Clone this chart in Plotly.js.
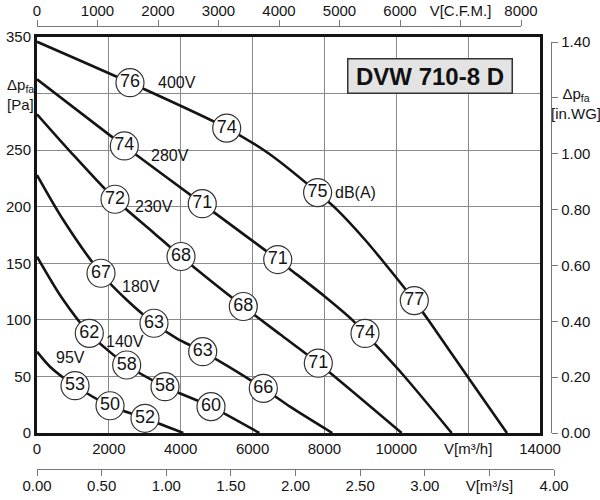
<!DOCTYPE html>
<html>
<head>
<meta charset="utf-8">
<script src="https://cdn.plot.ly/plotly-3.0.1.min.js"></script>
<style>
  html, body { margin: 0; padding: 0; background: #fff; }
  #chart { width: 600px; height: 500px; }
</style>
</head>
<body>
<div id="chart"></div>
<script>
// fan curves, flow V [m3/h] vs. pressure dp_fa [Pa]
const q400 = [0, 2588, 5280, 6450, 7810, 8341, 9129, 9658, 10501, 10888, 11982, 13080];
const p400 = [345.8, 309.6, 269.5, 247, 212.5, 197.6, 170.8, 150.7, 117, 100, 50, 0];
const q280 = [0, 2004, 2430, 4600, 6000, 6700, 7042, 8000, 8759, 9129, 10150, 11542];
const p280 = [312.6, 263.7, 253.7, 202.7, 169.8, 153.3, 144.8, 120.9, 100.4, 88, 52.8, 0];
const q230 = [0, 918, 2171, 3238, 4008, 5742, 6764, 7830, 10150];
const p230 = [281.7, 249, 206.6, 177.3, 156, 111.8, 87.3, 61.7, 0];
const q180 = [0, 732, 1781, 2500, 3256, 3900, 4612, 6299, 7042, 8219];
const p180 = [228, 188.3, 141.2, 117.5, 97, 83.5, 71.9, 39.5, 23.3, 0];
const q140 = [0, 700, 1456, 2496, 3563, 4843, 6188];
const p140 = [155.8, 119, 88.1, 60.1, 40.9, 23.3, 0];
const q95 = [0, 362, 1058, 2032, 3006, 4072];
const p95 = [71.9, 58.6, 41.8, 24.1, 13, 0];

// noise level points dB(A) on the curves
const dbQ = [2588, 5280, 7810, 10501,  2430, 4600, 6700, 9129,  2171, 4008, 5742, 7830,
             1781, 3256, 4612, 6299,  1456, 2496, 3563, 4843,  1058, 2032, 3006];
const dbP = [309.6, 269.5, 212.5, 117,  253.7, 202.7, 153.3, 88,  206.6, 156, 111.8, 61.7,
             141.2, 97, 71.9, 39.5,  88.1, 60.1, 40.9, 23.3,  41.8, 24.1, 13];
const dbVal = [76, 74, 75, 77,  74, 71, 71, 74,  72, 68, 68, 71,
               67, 63, 63, 66,  62, 58, 58, 60,  53, 50, 52];

// curve names and where their labels sit (data coords)
const voltNames = ["400V", "280V", "230V", "180V", "140V", "95V", "dB(A)"];
const voltLabelQ = [3897, 3700, 3250, 2895, 2449, 940, 8865];
const voltLabelP = [309.4, 245, 200, 129.3, 81, 66.6, 212.4];

// axis ticks
const qTicks = [0, 2000, 4000, 6000, 8000, 10000, 12000, 14000];
const qText = ["0", "2000", "4000", "6000", "8000", "10000", "V[m³/h]", "14000"];
const pTicks = [0, 50, 100, 150, 200, 250, 300, 350];
const pText = ["0", "50", "100", "150", "200", "250", "", "350"];
const cfmTicks = [0, 1000, 2000, 3000, 4000, 5000, 6000, 7000, 8000];
const cfmText = ["0", "1000", "2000", "3000", "4000", "5000", "6000", "V[C.F.M.]", "8000"];
const m3sTicks = [0, 0.5, 1, 1.5, 2, 2.5, 3, 3.5, 4];
const m3sText = ["0.00", "0.50", "1.00", "1.50", "2.00", "2.50", "3.00", "V[m³/s]", "4.00"];
const wgTicks = [0, 0.2, 0.4, 0.6, 0.8, 1.0, 1.2, 1.4];
const wgText = ["0.00", "0.20", "0.40", "0.60", "0.80", "1.00", "", "1.40"];

const W = 600, H = 500;
const fx = px => px / W;          // pixel -> paper fraction
const fy = py => 1 - py / H;

const FONT = '"Liberation Sans", Arial, sans-serif';
const INK = "#141414";

const curves = [[q400, p400], [q280, p280], [q230, p230], [q180, p180], [q140, p140], [q95, p95]];
const traces = curves.map(([q, p]) => ({
  x: q, y: p, type: "scatter", mode: "lines",
  line: { color: INK, width: 2.6, shape: "spline", smoothing: 0.8 },
  hoverinfo: "skip"
}));

traces.push({
  x: dbQ, y: dbP, type: "scatter", mode: "markers+text",
  text: dbVal.map(String), textposition: "middle center",
  textfont: { family: FONT, size: 18, color: INK },
  marker: { size: 28, color: "#fff", line: { color: "#333", width: 1.2 } },
  cliponaxis: false, hoverinfo: "skip"
});

// invisible carriers so that the secondary scales get drawn
const ghost = { type: "scatter", mode: "markers", marker: { opacity: 0 }, hoverinfo: "skip" };
traces.push(Object.assign({}, ghost, { x: cfmTicks, y: cfmTicks.map(() => 0), xaxis: "x2", yaxis: "y3" }));
traces.push(Object.assign({}, ghost, { x: m3sTicks, y: m3sTicks.map(() => 0), xaxis: "x3", yaxis: "y3" }));
traces.push(Object.assign({}, ghost, { x: wgTicks.map(() => 0), y: wgTicks, xaxis: "x4", yaxis: "y2" }));

const secAxis = {
  ticks: "outside", ticklen: 6, tickwidth: 1, tickcolor: "#777",
  showline: true, linecolor: "#777", linewidth: 1.2,
  showgrid: false, zeroline: false, anchor: "free",
  tickfont: { family: FONT, size: 15, color: INK }, fixedrange: true
};

const annotations = voltNames.map((t, i) => ({
  x: voltLabelQ[i], y: voltLabelP[i], xref: "x", yref: "y",
  text: t, showarrow: false, font: { family: FONT, size: 16, color: INK }
}));

annotations.push(
  { x: fx(430), y: fy(76), xref: "paper", yref: "paper", xanchor: "center", yanchor: "middle",
    text: "<b>DVW 710-8 D</b>", showarrow: false, width: 161, height: 31,
    bgcolor: "#e3e3e3", bordercolor: "#333", borderwidth: 1.5,
    font: { family: FONT, size: 24, color: "#111" } },
  { x: fx(5), y: fy(95), xref: "paper", yref: "paper", xanchor: "left", yanchor: "middle", align: "left",
    text: "Δp<sub>fa</sub><br>[Pa]", showarrow: false, font: { family: FONT, size: 15, color: INK } },
  { x: fx(576), y: fy(104), xref: "paper", yref: "paper", xanchor: "center", yanchor: "middle", align: "center",
    text: "Δp<sub>fa</sub><br>[in.WG]", showarrow: false, font: { family: FONT, size: 15, color: INK } }
);

const layout = {
  width: W, height: H,
  margin: { l: 0, r: 0, t: 0, b: 0 },
  paper_bgcolor: "#fff", plot_bgcolor: "rgba(0,0,0,0)",
  showlegend: false, hovermode: false,
  font: { family: FONT, size: 15, color: INK },
  xaxis: {
    domain: [fx(37), fx(540)], range: [0, 14000],
    tickvals: qTicks, ticktext: qText, ticks: "",
    showline: true, mirror: true, linewidth: 3, linecolor: INK,
    showgrid: true, gridcolor: "#8a8a8a", gridwidth: 1, zeroline: false,
    tickfont: { family: FONT, size: 15, color: INK }, fixedrange: true
  },
  yaxis: {
    domain: [fy(433), fy(37)], range: [0, 350],
    tickvals: pTicks, ticktext: pText, ticks: "",
    showline: true, mirror: true, linewidth: 3, linecolor: INK,
    showgrid: true, gridcolor: "#8a8a8a", gridwidth: 1, zeroline: false,
    tickfont: { family: FONT, size: 15, color: INK }, fixedrange: true
  },
  xaxis2: Object.assign({}, secAxis, {
    domain: [fx(37), fx(521)], range: [0, 8000], side: "top", position: fy(26),
    tickvals: cfmTicks, ticktext: cfmText, ticklabelstandoff: -2
  }),
  xaxis3: Object.assign({}, secAxis, {
    domain: [fx(37), fx(554)], range: [0, 4], side: "bottom", position: fy(469),
    tickvals: m3sTicks, ticktext: m3sText, ticklabelstandoff: -3
  }),
  yaxis2: Object.assign({}, secAxis, {
    domain: [fy(433), fy(42)], range: [0, 1.4], side: "right", position: fx(551),
    tickvals: wgTicks, ticktext: wgText
  }),
  // hidden partners for the secondary scales
  yaxis3: { domain: [fy(433), fy(37)], range: [-1, 1], visible: false, fixedrange: true },
  xaxis4: { domain: [fx(37), fx(540)], range: [-1, 1], visible: false, fixedrange: true },
  annotations
};

Plotly.newPlot("chart", traces, layout, { staticPlot: true, displayModeBar: false });
</script>
</body>
</html>
